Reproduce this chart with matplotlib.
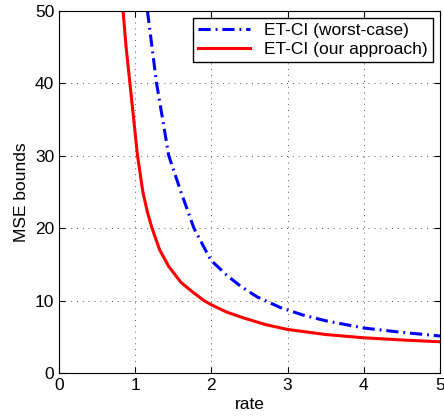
import matplotlib.pyplot as plt
import numpy as np

plt.rcParams['font.family'] = ['Liberation Sans', 'DejaVu Sans']

rate_ours = [0.84, 0.88, 0.93, 0.98, 1.03, 1.1, 1.16, 1.22, 1.32, 1.44, 1.6, 1.75, 1.9, 2.0,
             2.2, 2.42, 2.7, 3.0, 3.5, 4.0, 4.5, 5.0]
mse_ours = [50, 45, 40, 35, 30, 25, 22.2, 20, 17, 14.7, 12.5, 11.2, 10, 9.4,
            8.4, 7.6, 6.7, 6.0, 5.3, 4.85, 4.55, 4.3]

rate_worst = [1.16, 1.22, 1.28, 1.36, 1.44, 1.6, 1.77, 1.99, 2.2, 2.38, 2.6, 2.91,
              3.2, 3.5, 4.0, 4.5, 5.0]
mse_worst = [50, 45, 40, 35, 30, 25, 20, 15.6, 13.5, 12.0, 10.5, 9.0,
             8.0, 7.2, 6.2, 5.6, 5.1]

fig = plt.figure(figsize=(4.44, 4.19), dpi=100)
ax = fig.add_axes([0.133, 0.11, 0.858, 0.864])

ax.plot(rate_worst, mse_worst, color='blue', linestyle=(0, (4, 1.6, 0.6, 1.6)),
        linewidth=2.2, label='ET-CI (worst-case)')
ax.plot(rate_ours, mse_ours, color='red', linestyle='-', linewidth=2.2,
        label='ET-CI (our approach)')

ax.set_xlim(0, 5)
ax.set_ylim(0, 50)
ax.set_xticks(np.arange(0, 6, 1))
ax.set_yticks(np.arange(0, 60, 10))
ax.tick_params(direction='in', top=True, right=True, labelsize=12.5, length=4)
ax.grid(True, linestyle=(0, (1, 5)), color='#555555', linewidth=0.7)
ax.set_xlabel('rate', fontsize=12.5, labelpad=3)
ax.set_ylabel('MSE bounds', fontsize=12.5)

leg = ax.legend(loc='upper right', fontsize=12.5, fancybox=False, framealpha=1,
                edgecolor='black', borderaxespad=0.4, handlelength=3.0,
                borderpad=0.3, labelspacing=0.2)
leg.get_frame().set_linewidth(1.0)

plt.savefig('out.png', dpi=100)
